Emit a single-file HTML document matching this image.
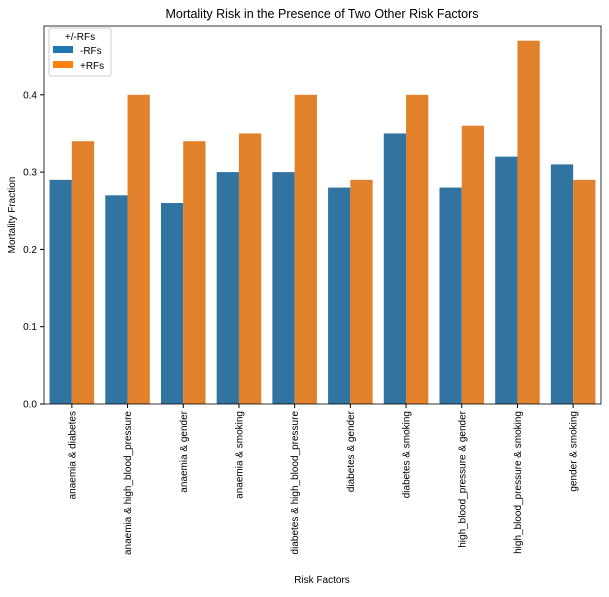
<!DOCTYPE html>
<html><head><meta charset="utf-8"><style>
body{margin:0;background:#fff;font-family:"Liberation Sans","DejaVu Sans",sans-serif;}
</style></head><body>
<svg id="chart" width="609" height="592" viewBox="0 0 609 592" xmlns="http://www.w3.org/2000/svg">
<text x="322" y="18" text-anchor="middle" font-size="12.5" fill="#000">Mortality Risk in the Presence of Two Other Risk Factors</text>
<g id="bars"></g><g id="axes"></g>
<text x="322" y="583" text-anchor="middle" font-size="10">Risk Factors</text>
<text transform="translate(15,215) rotate(-90)" text-anchor="middle" font-size="10">Mortality Fraction</text>
<g>
<rect x="49" y="28" width="62" height="48" fill="#fff" stroke="#ccc" rx="2"/>
<text x="80" y="40" text-anchor="middle" font-size="10">+/-RFs</text>
<rect x="53" y="46" width="20" height="7" fill="#1f77b4"/>
<text x="80" y="54" font-size="10">-RFs</text>
<rect x="53" y="61" width="20" height="7" fill="#ff7f0e"/>
<text x="80" y="69" font-size="10">+RFs</text>
</g>
</svg>
<script>
const categories=["anaemia & diabetes","anaemia & high_blood_pressure","anaemia & gender","anaemia & smoking","diabetes & high_blood_pressure","diabetes & gender","diabetes & smoking","high_blood_pressure & gender","high_blood_pressure & smoking","gender & smoking"];
const minusRF=[0.29,0.27,0.26,0.30,0.30,0.28,0.35,0.28,0.32,0.31];
const plusRF=[0.34,0.40,0.34,0.35,0.40,0.29,0.40,0.36,0.47,0.29];
const yTicks=[0,0.1,0.2,0.3,0.4];
const L=44,R=601,T=26,B=404,YMAX=0.489;
const ns="http://www.w3.org/2000/svg";
const y=v=>B-v/YMAX*(B-T);
const band=(R-L)/categories.length;
const xc=i=>L+band*(i+0.5);
const bars=document.getElementById('bars'),axes=document.getElementById('axes');
function mk(tag,attrs,parent){const e=document.createElementNS(ns,tag);for(const k in attrs)e.setAttribute(k,attrs[k]);parent.appendChild(e);return e;}
const bw=band*0.4;
categories.forEach((c,i)=>{
 const b1=mk('rect',{x:xc(i)-bw,y:y(minusRF[i]),width:bw,height:B-y(minusRF[i]),fill:'#3274a1'},bars);
 
 
 const b2=mk('rect',{x:xc(i),y:y(plusRF[i]),width:bw,height:B-y(plusRF[i]),fill:'#e1812c'},bars);
 
 
 mk('line',{x1:xc(i),x2:xc(i),y1:B,y2:B+4,stroke:'#000'},axes);
 const t=mk('text',{transform:`translate(${xc(i)+3.5},${B+7}) rotate(-90)`,'text-anchor':'end','font-size':'10'},axes);
 t.textContent=c;
 
 
});
yTicks.forEach(v=>{
 mk('line',{x1:L-4,x2:L,y1:y(v),y2:y(v),stroke:'#000'},axes);
 const t=mk('text',{x:L-7,y:y(v)+3.5,'text-anchor':'end','font-size':'10'},axes);
 t.textContent=v.toFixed(1);
 
 
});
const f=mk('rect',{x:L,y:T,width:R-L,height:B-T,fill:'none',stroke:'#000','stroke-width':0.8},axes);


</script>
</body></html>
